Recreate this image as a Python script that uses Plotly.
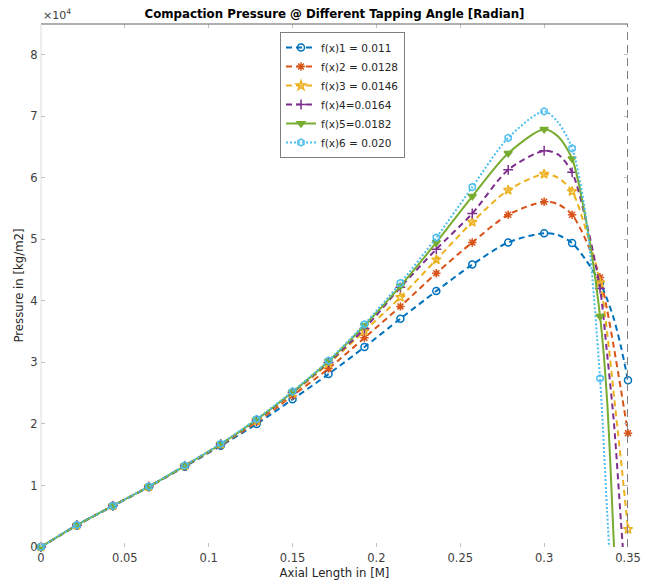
import plotly.graph_objects as go

# ---- data ----
x_vals = [0, 0.02143, 0.04286, 0.06429, 0.08571, 0.10714, 0.12857, 0.15, 0.17143,
          0.19286, 0.21429, 0.23571, 0.25714, 0.27857, 0.3, 0.30833, 0.31667,
          0.325, 0.33333, 0.3375, 0.34167, 0.34583, 0.35]
marker_idx = [0, 1, 2, 3, 4, 5, 6, 7, 8, 9, 10, 11, 12, 13, 14, 16, 18, 22]

f1 = [0, 3500, 6650, 9750, 13050, 16450, 20000, 24000, 28100, 32500, 37100, 41600,
      45900, 49500, 51000, 50700, 49400, 46600, 43000, 40300, 37000, 32500, 27100]
f2 = [0, 3550, 6700, 9800, 13150, 16600, 20300, 24600, 29000, 34000, 39100, 44500,
      49500, 54000, 56100, 55700, 54000, 49800, 43800, 38600, 32300, 25500, 18500]
f3 = [0, 3550, 6700, 9800, 13200, 16700, 20500, 25000, 29800, 35100, 40600, 46700,
      52800, 58000, 60600, 60000, 57800, 51500, 43000, 35000, 24500, 14000, 2900]
f4 = [0, 3550, 6700, 9800, 13200, 16700, 20600, 25100, 30000, 35500, 42200, 48400,
      54200, 61300, 64400, 63800, 60900, 53000, 42000, 31500, 20000, 4000, -12000]
f5 = [0, 3550, 6700, 9800, 13200, 16700, 20700, 25200, 30200, 36000, 42400, 49500,
      57000, 64000, 67900, 66700, 63100, 53000, 37500, 24000, 0, -25000, -50000]
f6 = [0, 3600, 6700, 9850, 13250, 16800, 20800, 25300, 30300, 36200, 42900, 50300,
      58500, 66500, 70800, 69000, 64800, 53500, 27400, 6000, -15000, -40000, -60000]

series_names = ["f(x)1 = 0.011", "f(x)2 = 0.0128", "f(x)3 = 0.0146",
                "f(x)4=0.0164", "f(x)5=0.0182", "f(x)6 = 0.020"]
series_values = [f1, f2, f3, f4, f5, f6]
boundary_x = 0.35

x_ticks = [0, 0.05, 0.1, 0.15, 0.2, 0.25, 0.3, 0.35]
x_tick_labels = ["0", "0.05", "0.1", "0.15", "0.2", "0.25", "0.3", "0.35"]
y_ticks = [0, 10000, 20000, 30000, 40000, 50000, 60000, 70000, 80000]
y_tick_labels = ["0", "1", "2", "3", "4", "5", "6", "7", "8"]

# ---- styles ----
colors = ["#0072BD", "#D95319", "#EDB120", "#7E2F8E", "#77AC30", "#4DBEEE"]
dashes = ["6px,4px", "6px,4px", "6px,4px", "6px,4px", "solid", "2px,2px"]
symbols = ["circle-open", "asterisk-open", "star-open", "cross-thin-open",
           "triangle-down", "hexagon-open"]
widths = [2, 2, 2, 2, 2, 2]

fig = go.Figure()
for name, ys, c, d, s, w in zip(series_names, series_values, colors, dashes, symbols, widths):
    fig.add_trace(go.Scatter(x=x_vals, y=ys, mode="lines", showlegend=False,
                             line=dict(color=c, width=w, dash=d, shape="spline", smoothing=0.8),
                             hoverinfo="skip"))
    mx = [x_vals[i] for i in marker_idx if ys[i] >= 0]
    my = [ys[i] for i in marker_idx if ys[i] >= 0]
    fig.add_trace(go.Scatter(x=mx, y=my, mode="markers", showlegend=False, cliponaxis=False,
                             marker=dict(symbol=s, size=7, color=c,
                                         line=dict(color=c, width=1.5))))
    fig.add_trace(go.Scatter(x=[None], y=[None], mode="lines+markers", name=name,
                             line=dict(color=c, width=w, dash=d),
                             marker=dict(symbol=s, size=7, color=c,
                                         line=dict(color=c, width=1.5))))

axis_font = dict(family="DejaVu Sans", size=11.5, color="#404040")

# page body has an 8px margin: figure is 645x574 placed at (8, 8)
W, H = 645, 574
fig.update_layout(
    width=W, height=H,
    margin=dict(l=33, r=25, t=16, b=35),
    paper_bgcolor="white", plot_bgcolor="white",
    font=dict(family="DejaVu Sans", size=11, color="#262626"),
    title=dict(text="<b>Compaction Pressure @ Different Tapping Angle [Radian]</b>",
               x=326.5 / W, xanchor="center", y=1 - 6 / H, yanchor="middle",
               font=dict(family="DejaVu Sans", size=11.8, color="black")),
    xaxis=dict(range=[0, 0.35], tickvals=x_ticks, ticktext=x_tick_labels,
               ticks="inside", ticklen=4, tickcolor="#c0c0c0", mirror="ticks",
               showline=True, linecolor="rgba(0,0,0,0)", showgrid=False, zeroline=False,
               tickfont=axis_font, automargin=False,
               title=dict(text="Axial Length in [M]", standoff=5,
                          font=dict(family="DejaVu Sans", size=11.7, color="#262626"))),
    yaxis=dict(range=[0, 85000], tickvals=y_ticks, ticktext=y_tick_labels,
               ticks="inside", ticklen=4, tickcolor="#c0c0c0", mirror="ticks",
               showline=True, linecolor="rgba(0,0,0,0)", showgrid=False, zeroline=False,
               tickfont=axis_font, automargin=False,
               title=dict(text="Pressure in [kg/m2]", standoff=4,
                          font=dict(family="DejaVu Sans", size=11.7, color="#262626"))),
    legend=dict(x=(280 - 41) / 587, y=(547 - 32) / 523, xanchor="left", yanchor="top",
                bgcolor="white", bordercolor="#7f7f7f", borderwidth=1,
                font=dict(family="DejaVu Sans", size=10.5, color="#262626"),
                itemwidth=30, tracegroupgap=0),
    shapes=[
        dict(type="line", xref="paper", yref="paper", x0=0, x1=1, y0=1, y1=1,
             line=dict(color="#606060", width=1.2)),
        dict(type="line", xref="paper", yref="paper", x0=0, x1=0, y0=0, y1=1,
             line=dict(color="#dcdcdc", width=1)),
        dict(type="line", xref="x", yref="paper", x0=boundary_x, x1=boundary_x, y0=0, y1=1,
             line=dict(color="#808080", width=2, dash="8px,5px")),
    ],
    annotations=[
        dict(text="×10<sup>4</sup>", xref="paper", yref="paper", x=0, y=1,
             xanchor="left", yanchor="bottom", showarrow=False,
             font=dict(family="DejaVu Sans", size=11, color="#404040")),
    ],
)

fig.write_html("out.html")
